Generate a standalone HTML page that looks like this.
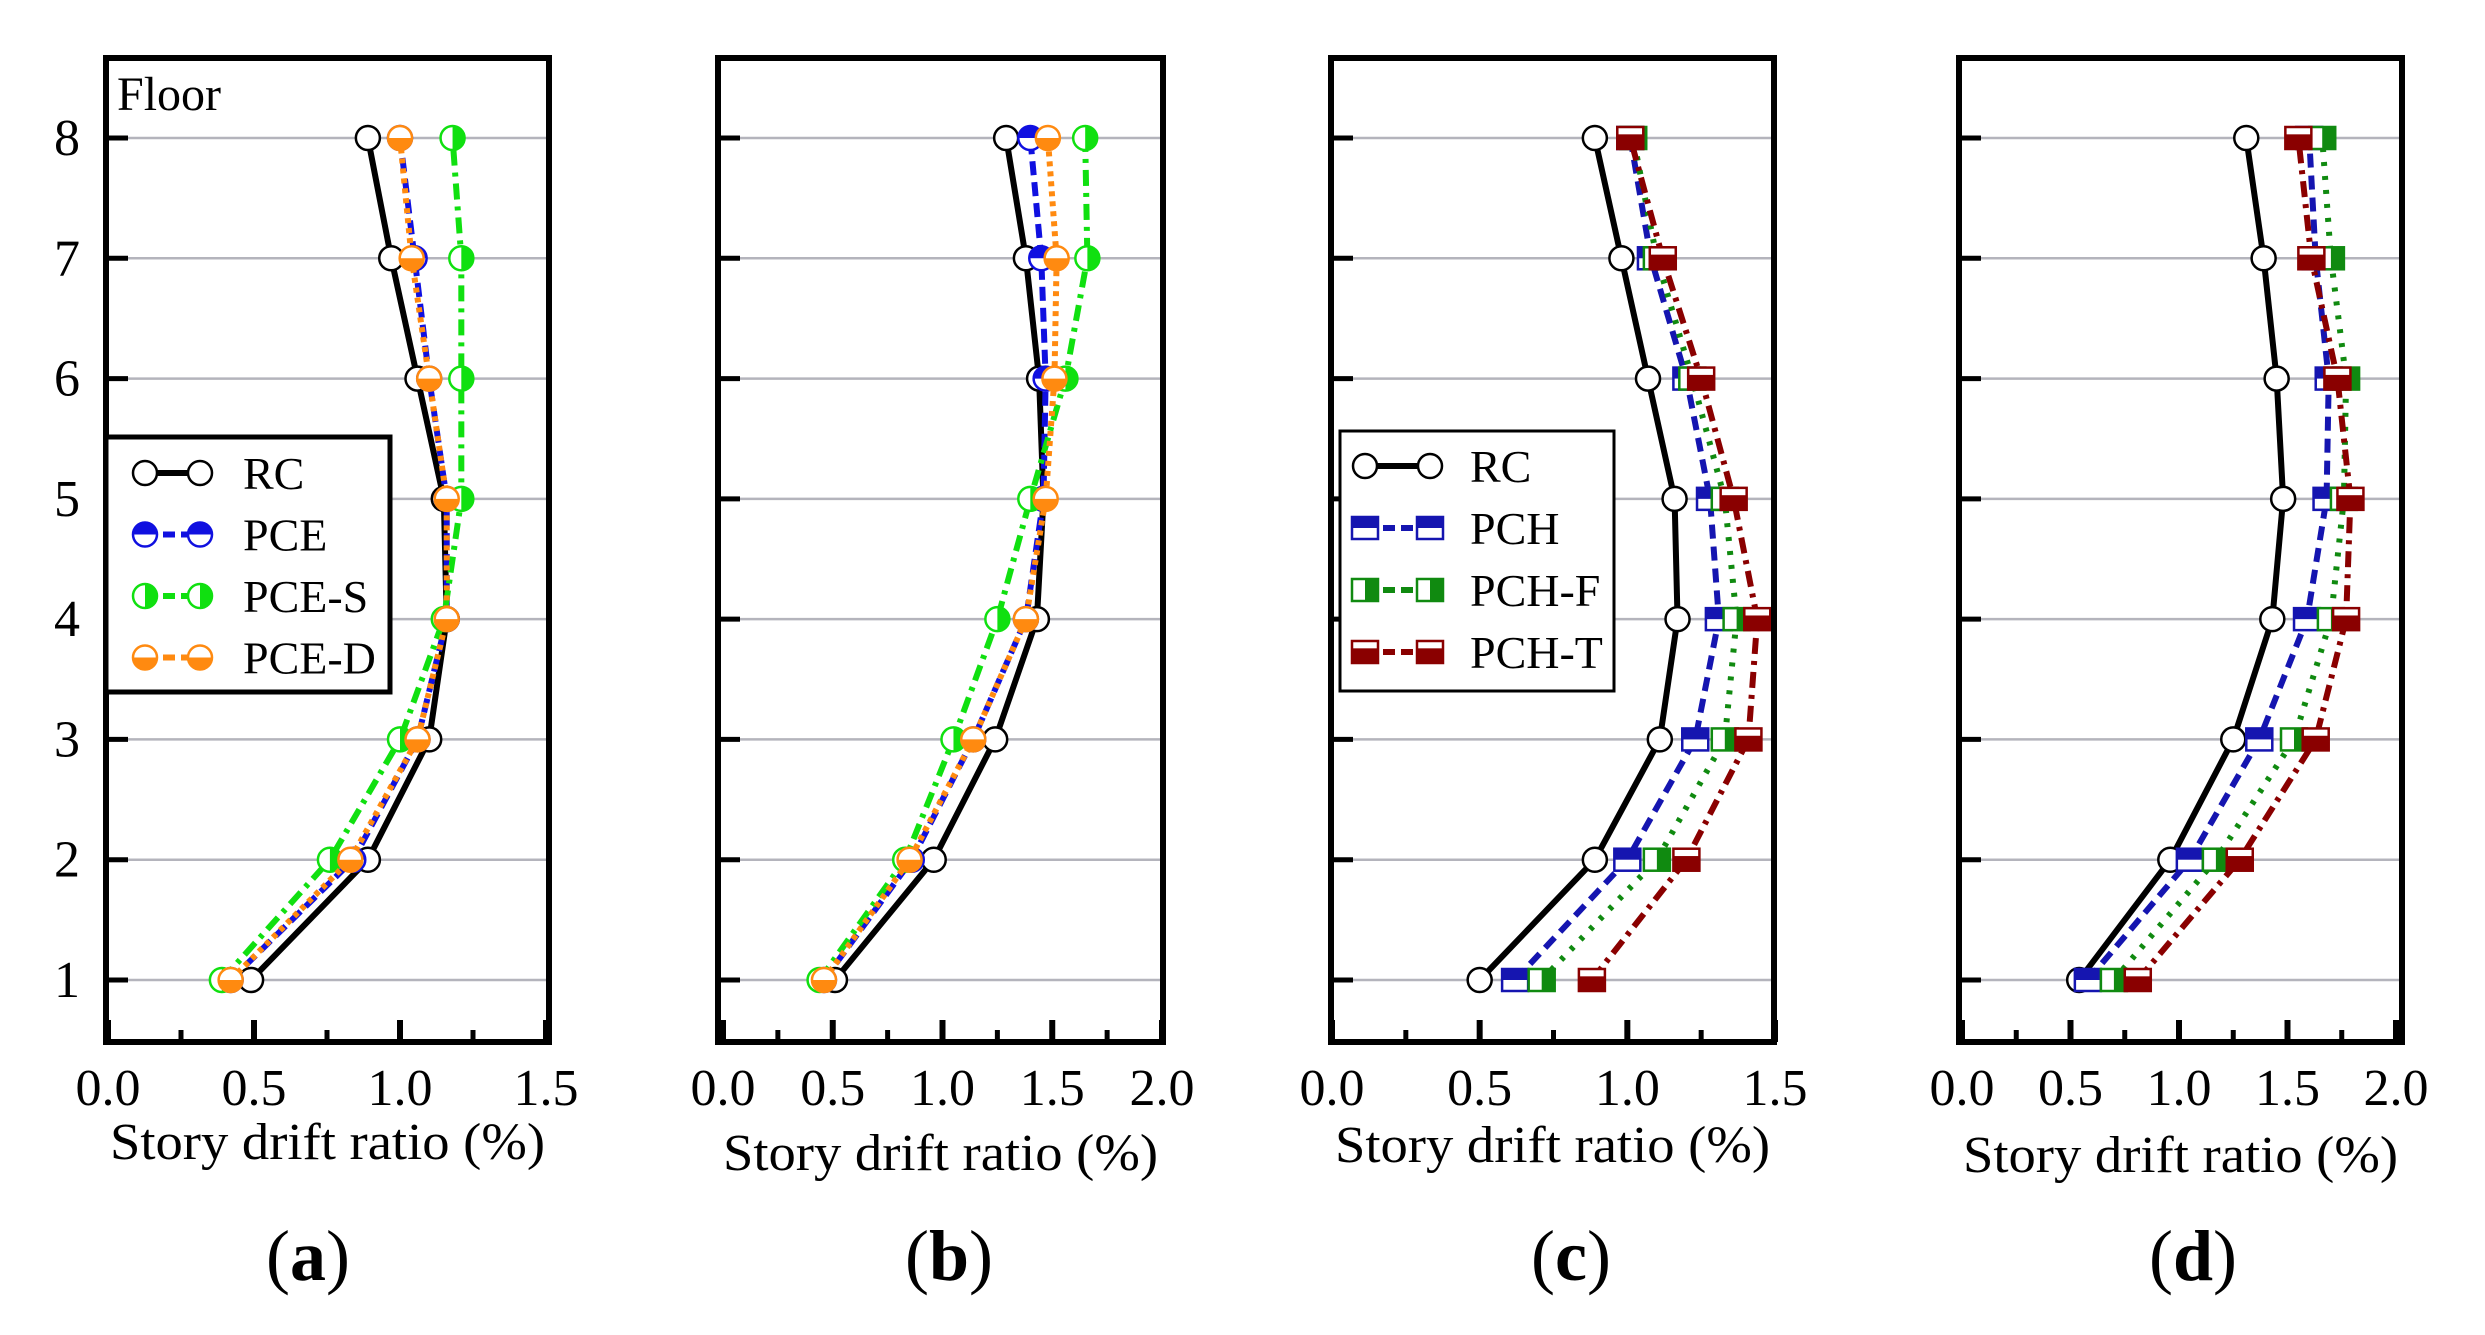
<!DOCTYPE html>
<html><head><meta charset="utf-8">
<style>
html,body{margin:0;padding:0;background:#fff;}
svg{display:block;}
text{font-family:"Liberation Serif",serif;fill:#000;}
</style></head>
<body>
<svg id="fig" width="2485" height="1335" viewBox="0 0 2485 1335" xmlns="http://www.w3.org/2000/svg">
<rect x="0" y="0" width="2485" height="1335" fill="#fff"/>
</svg>
<script>
const floors = [1,2,3,4,5,6,7,8];
// Panel (a)
const aRC   = [0.49,0.89,1.10,1.16,1.15,1.06,0.97,0.89];
const aPCE  = [0.42,0.84,1.06,1.16,1.16,1.10,1.05,1.00];
const aPCES = [0.39,0.76,1.00,1.15,1.21,1.21,1.21,1.18];
const aPCED = [0.42,0.83,1.06,1.16,1.16,1.10,1.04,1.00];
// Panel (b)
const bRC   = [0.51,0.96,1.24,1.43,1.46,1.44,1.38,1.29];
const bPCE  = [0.46,0.86,1.14,1.38,1.46,1.47,1.45,1.40];
const bPCES = [0.44,0.83,1.05,1.25,1.40,1.56,1.66,1.65];
const bPCED = [0.46,0.85,1.14,1.38,1.47,1.51,1.52,1.48];
// Panel (c)
const cRC   = [0.50,0.89,1.11,1.17,1.16,1.07,0.98,0.89];
const cPCH  = [0.62,1.00,1.23,1.31,1.28,1.20,1.08,1.01];
const cPCHF = [0.71,1.10,1.33,1.37,1.33,1.22,1.10,1.02];
const cPCHT = [0.88,1.20,1.41,1.44,1.36,1.25,1.12,1.01];
// Panel (d)
const dRC   = [0.54,0.96,1.25,1.43,1.48,1.45,1.39,1.31];
const dPCH  = [0.58,1.05,1.37,1.59,1.68,1.69,1.63,1.60];
const dPCHF = [0.70,1.17,1.53,1.70,1.76,1.77,1.70,1.66];
const dPCHT = [0.81,1.28,1.63,1.77,1.79,1.73,1.61,1.55];
const ticksA = ["0.0","0.5","1.0","1.5"];
const ticksB = ["0.0","0.5","1.0","1.5","2.0"];

const NS="http://www.w3.org/2000/svg";
const svg=document.getElementById('fig');
function mk(tag,attrs,parent){const e=document.createElementNS(NS,tag);for(const k in attrs)e.setAttribute(k,attrs[k]);(parent||svg).appendChild(e);return e;}

const yTop=138, yBot=980;
function yS(f){return yBot-(f-1)*(yBot-yTop)/7;}

const styles={
 RC:{color:'#000',dash:'',shape:'circle',fill:'none'},
 PCE:{color:'#1010e0',dash:'14 7',shape:'circle',fill:'top'},
 PCES:{color:'#10e010',dash:'16 7 4 7',shape:'circle',fill:'right'},
 PCED:{color:'#ff8a10',dash:'5 5',shape:'circle',fill:'bottom'},
 PCH:{color:'#1515b0',dash:'14 8',shape:'square',fill:'top'},
 PCHF:{color:'#108a10',dash:'4 10',shape:'square',fill:'right'},
 PCHT:{color:'#8a0000',dash:'16 7 4 7',shape:'square',fill:'bottom'}
};

function marker(g,cx,cy,st){
  if(st.shape==='circle'){
    const r=12;
    mk('circle',{cx:cx,cy:cy,r:r,fill:'#fff',stroke:st.color,'stroke-width':2.5},g);
    let d='';
    if(st.fill==='top')d=`M${cx-r},${cy} A${r},${r} 0 0 1 ${cx+r},${cy} Z`;
    if(st.fill==='bottom')d=`M${cx-r},${cy} A${r},${r} 0 0 0 ${cx+r},${cy} Z`;
    if(st.fill==='right')d=`M${cx},${cy-r} A${r},${r} 0 0 1 ${cx},${cy+r} Z`;
    if(d)mk('path',{d:d,fill:st.color},g);
  } else {
    const w=26,h=22;
    mk('rect',{x:cx-w/2,y:cy-h/2,width:w,height:h,fill:'#fff',stroke:st.color,'stroke-width':2.5},g);
    if(st.fill==='top')mk('rect',{x:cx-w/2,y:cy-h/2,width:w,height:h/2,fill:st.color},g);
    if(st.fill==='right')mk('rect',{x:cx,y:cy-h/2,width:w/2,height:h,fill:st.color},g);
    if(st.fill==='bottom')mk('rect',{x:cx-w/2,y:cy-h/6,width:w,height:h*2/3,fill:st.color},g);
  }
}

function panel(id,box,xmin,xmax,x0,x1,ticks,series,legend,label,titleY){
  const g=mk('g',{});
  
  
  const xS=v=>x0+(v-xmin)/(xmax-xmin)*(x1-x0);
  // gridlines
  floors.forEach(f=>{
    const l=mk('line',{x1:box[0],x2:box[1],y1:yS(f),y2:yS(f),stroke:'#b4b4bc','stroke-width':2.5},g);
    
    
    mk('line',{x1:box[0],x2:box[0]+22,y1:yS(f),y2:yS(f),stroke:'#000','stroke-width':5},g);
  });
  // x ticks
  for(let v=xmin;v<=xmax+1e-9;v+=0.25){
    const major=Math.abs(v*2-Math.round(v*2))<1e-6;
    mk('line',{x1:xS(v),x2:xS(v),y1:1042,y2:1042-(major?22:12),stroke:'#000','stroke-width':major?6:5},g);
  }
  ticks.forEach(t=>{
    const tx=mk('text',{x:xS(parseFloat(t)),y:1105,'font-size':52,'text-anchor':'middle'},g);
    tx.textContent=t;
    
    
  });
  const tt=mk('text',{x:(box[0]+box[1])/2,y:titleY,'font-size':52,'text-anchor':'middle',textLength:435,lengthAdjust:'spacingAndGlyphs'},g);
  tt.textContent='Story drift ratio (%)';
  
  
  // series
  series.forEach(s=>{
    const st=styles[s.key];
    const sg=mk('g',{},g);
    
    
    const pts=s.vals.map((v,i)=>xS(v)+','+yS(floors[i])).join(' ');
    const pl=mk('polyline',{points:pts,fill:'none',stroke:st.color,'stroke-width':6,'stroke-dasharray':st.dash},sg);
    
    
    s.vals.forEach((v,i)=>marker(sg,xS(v),yS(floors[i]),st));
  });
  // frame
  const fr=mk('rect',{x:box[0],y:58,width:box[1]-box[0],height:1042-58,fill:'none',stroke:'#000','stroke-width':6},g);
  
  
  // legend
  if(legend){
    const lg=mk('g',{},g);
    
    
    mk('rect',{x:legend.x,y:legend.y,width:legend.w,height:legend.h,fill:'#fff',stroke:'#000','stroke-width':legend.sw},lg);
    series.forEach((s,i)=>{
      const st=styles[s.key];
      const ey=legend.y0+i*legend.dy;
      const eg=mk('g',{},lg);
      
      
      mk('line',{x1:legend.sx0,x2:legend.sx1,y1:ey,y2:ey,stroke:st.color,'stroke-width':6,'stroke-dasharray':st.dash?'12 6':''},eg);
      marker(eg,legend.sx0,ey,st);marker(eg,legend.sx1,ey,st);
      const t=mk('text',{x:legend.tx,y:ey+16,'font-size':46},eg);
      t.textContent=s.name;
    });
  }
  const lb=mk('text',{x:label[1],y:1280,'font-size':72,'text-anchor':'middle'},g);
  lb.innerHTML='(<tspan font-weight="bold">'+label[0]+'</tspan>)';
  
  
}

panel('a',[106,549],0,1.5,108,546,ticksA,
 [{key:'RC',name:'RC',vals:aRC},{key:'PCE',name:'PCE',vals:aPCE},{key:'PCES',name:'PCE-S',vals:aPCES},{key:'PCED',name:'PCE-D',vals:aPCED}],
 {x:106,y:437,w:284,h:255,sw:5,y0:473,dy:61.5,sx0:145,sx1:200,tx:243},['a',308],1159);
panel('b',[718,1163],0,2.0,723,1162,ticksB,
 [{key:'RC',name:'RC',vals:bRC},{key:'PCE',name:'PCE',vals:bPCE},{key:'PCES',name:'PCE-S',vals:bPCES},{key:'PCED',name:'PCE-D',vals:bPCED}],
 null,['b',949],1170);
panel('c',[1331,1774],0,1.5,1332,1775,ticksA,
 [{key:'RC',name:'RC',vals:cRC},{key:'PCH',name:'PCH',vals:cPCH},{key:'PCHF',name:'PCH-F',vals:cPCHF},{key:'PCHT',name:'PCH-T',vals:cPCHT}],
 {x:1340,y:431,w:274,h:260,sw:3,y0:466,dy:62,sx0:1365,sx1:1430,tx:1470},['c',1571],1162);
panel('d',[1959,2402],0,2.0,1962,2396,ticksB,
 [{key:'RC',name:'RC',vals:dRC},{key:'PCH',name:'PCH',vals:dPCH},{key:'PCHF',name:'PCH-F',vals:dPCHF},{key:'PCHT',name:'PCH-T',vals:dPCHT}],
 null,['d',2193],1172);

// y tick labels and Floor label (panel a)
floors.forEach(f=>{
  const t=mk('text',{x:67,y:yS(f)+17,'font-size':52,'text-anchor':'middle'});
  t.textContent=String(f);
  
  
});
const fl=mk('text',{x:117,y:110,'font-size':48});
fl.textContent='Floor';


</script>
</body></html>
